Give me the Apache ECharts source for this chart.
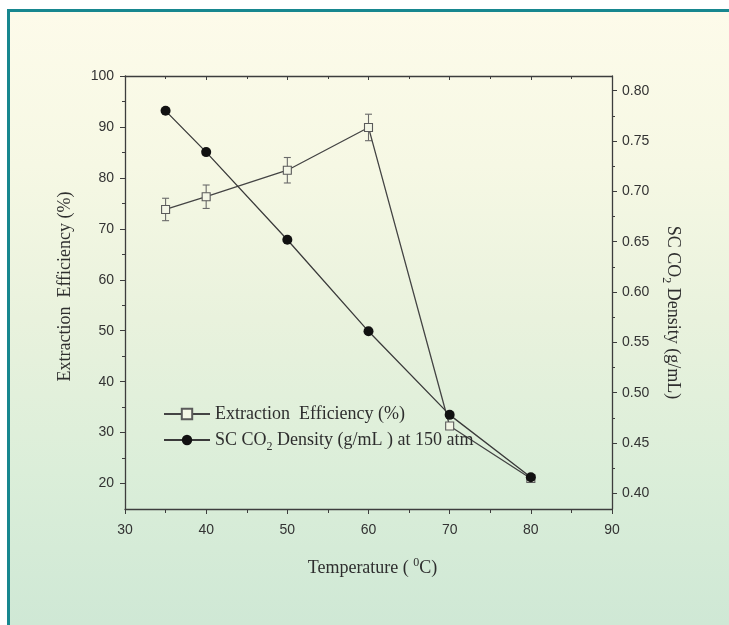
<!DOCTYPE html>
<html>
<head>
<meta charset="utf-8">
<script src="https://cdn.jsdelivr.net/npm/echarts@6/dist/echarts.min.js"></script>
<style>
html,body{margin:0;padding:0;background:#fff;}
#bg{position:absolute;left:7px;top:9px;width:722px;height:616px;box-sizing:border-box;border-left:3px solid #17878f;border-top:3px solid #17878f;background:linear-gradient(to bottom,#fdfbea 0%,#f6f8e4 25%,#e9f2dd 50%,#dbeed9 75%,#cfe8d5 100%);}
#chart{position:absolute;left:0;top:0;width:729px;height:625px;}
</style>
</head>
<body>
<div id="bg"></div>
<div id="chart"></div>
<script>
// ---- data ----
const temperatures = [35, 40, 50, 60, 70, 80];
const extractionEfficiency = [73.8, 76.3, 81.5, 89.9, 31.3, 21.0];
const efficiencyError = [2.2, 2.3, 2.5, 2.6, 0, 0];
const co2Density = [0.780, 0.739, 0.652, 0.561, 0.478, 0.416];
const leftTickLabels = [20, 30, 40, 50, 60, 70, 80, 90, 100];
const leftMinorTicks = [25, 35, 45, 55, 65, 75, 85, 95];
const rightTickLabels = [0.40, 0.45, 0.50, 0.55, 0.60, 0.65, 0.70, 0.75, 0.80];
const rightMinorTicks = [0.425, 0.475, 0.525, 0.575, 0.625, 0.675, 0.725, 0.775];

const effName = 'Extraction  Efficiency (%)';
const denName = 'SC CO2 Density (g/mL ) at 150 atm';

const axisColor = '#3d3d3d';
const labelColor = '#333';
const serif = '"Liberation Serif","DejaVu Serif",serif';
const sans = '"Liberation Sans",Arial,sans-serif';

const chart = echarts.init(document.getElementById('chart'), null, {renderer: 'canvas'});

const errData = temperatures
  .map((t, i) => [t, extractionEfficiency[i] - efficiencyError[i], extractionEfficiency[i] + efficiencyError[i], efficiencyError[i]])
  .filter(d => d[3] > 0);

const yLeftRange = {min: 15, max: 100};
const yRightRange = {min: 0.3845, max: 0.8146};

const option = {
  backgroundColor: 'transparent',
  animation: false,
  grid: {left: 125, right: 117, top: 76, bottom: 116, containLabel: false},
  legend: {
    left: 158, top: 400, orient: 'vertical', padding: 5,
    itemWidth: 46, itemHeight: 13, itemGap: 8,
    data: [effName, denName],
    formatter: function (n) {
      return n === denName ? 'SC CO{sub|2} Density (g/mL ) at 150 atm' : n;
    },
    textStyle: {
      fontFamily: serif, fontSize: 18, color: '#2e2e2e',
      rich: {sub: {fontFamily: serif, fontSize: 12, color: '#2e2e2e', padding: [13, 0, 0, 0]}}
    }
  },
  xAxis: [{
    type: 'value', min: 30, max: 90, interval: 10,
    name: 'Temperature ( {sup|0}C)', nameLocation: 'middle', nameGap: 48,
    nameTextStyle: {fontFamily: serif, fontSize: 18, color: '#2e2e2e', padding: [0, 0, 0, 8],
      rich: {sup: {fontFamily: serif, fontSize: 12, color: '#2e2e2e', padding: [0, 0, 10, 0]}}},
    axisLine: {show: true, onZero: false, lineStyle: {color: axisColor, width: 1.3}},
    axisTick: {show: true, inside: false, length: 5, lineStyle: {color: axisColor}},
    minorTick: {show: true, splitNumber: 2, length: 4, lineStyle: {color: axisColor}},
    axisLabel: {fontFamily: sans, fontSize: 14, color: labelColor, margin: 14},
    splitLine: {show: false}
  }, {
    type: 'value', min: 30, max: 90, interval: 10, position: 'top',
    axisLine: {show: true, onZero: false, lineStyle: {color: axisColor, width: 1.3}},
    axisTick: {show: true, inside: true, length: 4, lineStyle: {color: axisColor}},
    minorTick: {show: true, splitNumber: 2, length: 3, lineStyle: {color: axisColor}},
    axisLabel: {show: false},
    splitLine: {show: false}
  }],
  yAxis: [{
    type: 'value', min: yLeftRange.min, max: yLeftRange.max, position: 'left',
    name: 'Extraction  Efficiency (%)', nameLocation: 'middle', nameGap: 51,
    nameTextStyle: {fontFamily: serif, fontSize: 18, color: '#2e2e2e', padding: [0, 0, 0, 12]},
    axisLine: {show: true, onZero: false, lineStyle: {color: axisColor, width: 1.3}},
    axisTick: {show: true, inside: false, length: 5, customValues: leftTickLabels, lineStyle: {color: axisColor}},
    axisLabel: {fontFamily: sans, fontSize: 14, color: labelColor, margin: 11, customValues: leftTickLabels},
    splitLine: {show: false}
  }, {
    type: 'value', min: yRightRange.min, max: yRightRange.max, position: 'right',
    name: 'SC CO{sub|2} Density (g/mL)', nameLocation: 'middle', nameGap: 45, nameRotate: -90,
    nameTextStyle: {fontFamily: serif, fontSize: 18, color: '#2e2e2e', padding: [0, 0, 0, 40],
      rich: {sub: {fontFamily: serif, fontSize: 12, color: '#2e2e2e', padding: [13, 0, 0, 0]}}},
    axisLine: {show: true, onZero: false, lineStyle: {color: axisColor, width: 1.3}},
    axisTick: {show: true, inside: false, length: 5, customValues: rightTickLabels, lineStyle: {color: axisColor}},
    axisLabel: {fontFamily: sans, fontSize: 14, color: labelColor, margin: 10, customValues: rightTickLabels,
      formatter: v => v.toFixed(2)},
    splitLine: {show: false}
  }, {
    type: 'value', min: yLeftRange.min, max: yLeftRange.max, position: 'left',
    axisLine: {show: false},
    axisTick: {show: true, inside: false, length: 3, customValues: leftMinorTicks, lineStyle: {color: axisColor}},
    axisLabel: {show: false},
    splitLine: {show: false}
  }, {
    type: 'value', min: yRightRange.min, max: yRightRange.max, position: 'right',
    axisLine: {show: false},
    axisTick: {show: true, inside: false, length: 3, customValues: rightMinorTicks, lineStyle: {color: axisColor}},
    axisLabel: {show: false},
    splitLine: {show: false}
  }],
  series: [{
    type: 'custom', name: 'err', xAxisIndex: 0, yAxisIndex: 0, z: 1,
    data: errData,
    renderItem: function (params, api) {
      const x = api.value(0);
      const lo = api.coord([x, api.value(1)]);
      const hi = api.coord([x, api.value(2)]);
      const w = 3.5;
      const st = {stroke: '#6a6a6a', lineWidth: 1.1};
      return {type: 'group', children: [
        {type: 'line', shape: {x1: lo[0], y1: lo[1], x2: hi[0], y2: hi[1]}, style: st},
        {type: 'line', shape: {x1: lo[0] - w, y1: lo[1], x2: lo[0] + w, y2: lo[1]}, style: st},
        {type: 'line', shape: {x1: hi[0] - w, y1: hi[1], x2: hi[0] + w, y2: hi[1]}, style: st}
      ]};
    }
  }, {
    type: 'line', name: effName, xAxisIndex: 0, yAxisIndex: 0, z: 3,
    data: temperatures.map((t, i) => [t, extractionEfficiency[i]]),
    symbol: 'rect', symbolSize: 8,
    lineStyle: {color: '#444', width: 1.3},
    itemStyle: {color: '#f3f6e6', borderColor: '#5a5a5a', borderWidth: 1.1}
  }, {
    type: 'line', name: denName, xAxisIndex: 0, yAxisIndex: 1, z: 4,
    data: temperatures.map((t, i) => [t, co2Density[i]]),
    symbol: 'circle', symbolSize: 10,
    lineStyle: {color: '#3a3a3a', width: 1.3},
    itemStyle: {color: '#111', borderColor: '#111', borderWidth: 0}
  }]
};
chart.setOption(option);
</script>
</body>
</html>
